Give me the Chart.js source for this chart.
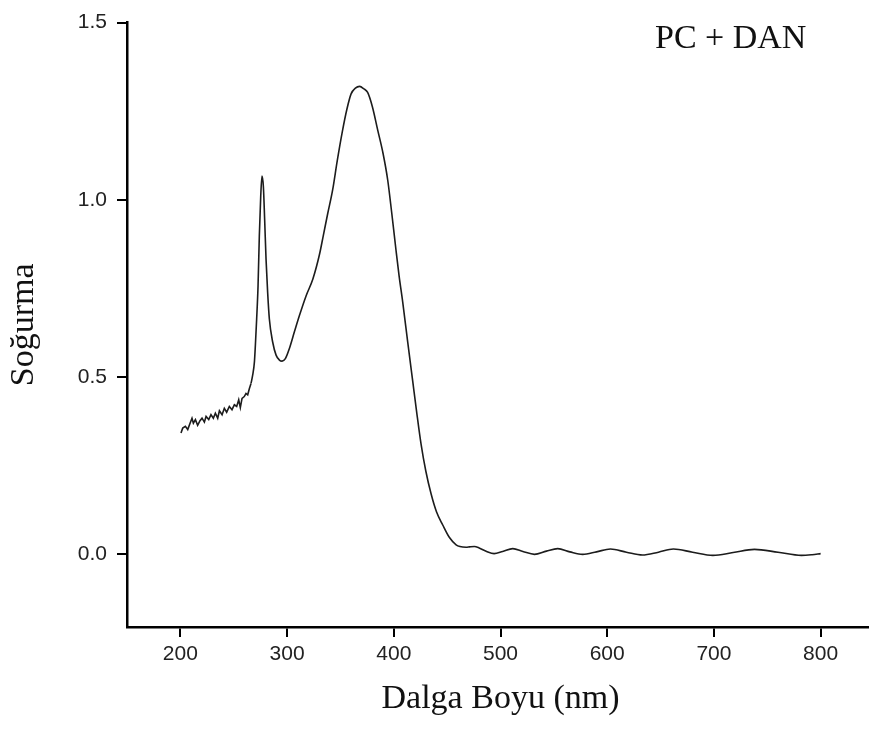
<!DOCTYPE html>
<html>
<head>
<meta charset="utf-8">
<script src="https://cdn.jsdelivr.net/npm/chart.js@4/dist/chart.umd.min.js"></script>
<style>
  html, body { margin: 0; padding: 0; background: #fff; overflow: hidden; }
  #wrap { position: relative; width: 880px; height: 731px; }
  #label { position: absolute; left: 655px; top: 18px; font-family: "Liberation Serif", "Times New Roman", serif; font-size: 34px; color: #111; white-space: nowrap; }
</style>
</head>
<body>
<div id="wrap">
  <canvas id="c"></canvas>
  <div id="label">PC + DAN</div>
</div>
<script>
// Noisy low-wavelength segment (nm, absorbance)
const noisyWavelength = [200.6,202.2,204.7,206.9,209.1,210.9,212.2,214.1,216.2,218.4,220.3,222.5,224.1,226.6,228.7,230.9,232.8,235.0,236.6,239.1,241.2,243.4,245.9,248.4,250.6,252.8,254.7,256.2,257.8,259.9,261.5,263.1,264.7,266.2];
const noisyAbsorbance = [0.342,0.356,0.361,0.352,0.370,0.384,0.370,0.380,0.364,0.377,0.384,0.373,0.389,0.380,0.394,0.384,0.398,0.384,0.405,0.394,0.412,0.401,0.417,0.408,0.422,0.417,0.436,0.414,0.440,0.445,0.454,0.450,0.468,0.482];

// Smooth segment (nm, absorbance)
const smoothWavelength = [266.2,267.8,269.4,270.3,271.5,272.8,274.0,275.3,276.5,277.8,279.0,280.3,281.8,283.4,286.5,289.7,292.8,295.3,298.4,302.1,306.8,311.5,317.8,324.1,330.3,334,338,342.7,347,352,356,360,364,368,372,375.5,380,385,390,394.3,398,402,405,408.4,413,417.8,421.5,425.6,430,435,440,446,452,458.4,462,467.8,471,475.5,480,487,494,502,511.5,521,531.8,543,553.6,565,577,590,603,618,633,648,662,680,699,718,738,760,782,792,800];
const smoothAbsorbance = [0.482,0.506,0.543,0.590,0.664,0.757,0.898,1.009,1.067,1.037,0.944,0.832,0.739,0.664,0.599,0.562,0.548,0.545,0.552,0.580,0.627,0.673,0.729,0.776,0.845,0.900,0.960,1.028,1.110,1.196,1.255,1.299,1.315,1.320,1.313,1.303,1.262,1.196,1.130,1.056,0.965,0.860,0.785,0.711,0.600,0.487,0.400,0.310,0.235,0.170,0.120,0.082,0.048,0.027,0.022,0.020,0.021,0.022,0.018,0.008,0.002,0.008,0.016,0.008,0.000,0.009,0.016,0.007,0.000,0.007,0.015,0.006,-0.002,0.006,0.015,0.006,-0.003,0.005,0.014,0.006,-0.003,-0.001,0.002];

const xTickValues = [200,300,400,500,600,700,800];
const yTickValues = [0.0,0.5,1.0,1.5];

const toPoints = (xs, ys) => xs.map((x, i) => ({ x: x, y: ys[i] }));

const lineColor = '#1c1c1c';
const tickFont = { family: '"Liberation Sans", Arial, sans-serif', size: 21 };
const titleFont = { family: '"Liberation Serif", "Times New Roman", serif', size: 34 };

new Chart(document.getElementById('c'), {
  type: 'line',
  data: {
    datasets: [
      { data: toPoints(noisyWavelength, noisyAbsorbance), borderColor: lineColor, borderWidth: 1.6, pointRadius: 0, tension: 0, fill: false },
      { data: toPoints(smoothWavelength, smoothAbsorbance), borderColor: lineColor, borderWidth: 1.6, pointRadius: 0, cubicInterpolationMode: 'monotone', fill: false }
    ]
  },
  options: {
    responsive: true,
    maintainAspectRatio: false,
    animation: false,
    layout: { padding: { left: 0, right: 6, top: 19, bottom: 0 } },
    plugins: { legend: { display: false }, tooltip: { enabled: false } },
    scales: {
      x: {
        type: 'linear', min: 150, max: 850,
        afterBuildTicks: s => { s.ticks = xTickValues.map(v => ({ value: v })); },
        afterFit: s => { s.height = 104; },
        grid: { display: true, drawOnChartArea: false, drawTicks: true, tickLength: 10, color: '#000', lineWidth: 2 },
        border: { display: true, color: '#000', width: 2.5 },
        ticks: { color: '#222', font: tickFont, padding: 5, maxRotation: 0, callback: v => String(v) },
        title: { display: true, text: 'Dalga Boyu (nm)', color: '#111', font: titleFont, padding: { top: 0, bottom: 12 } }
      },
      y: {
        type: 'linear', min: -0.205, max: 1.5,
        afterBuildTicks: s => { s.ticks = yTickValues.map(v => ({ value: v })); },
        afterFit: s => { s.width = 127; },
        grid: { display: true, drawOnChartArea: false, drawTicks: true, tickLength: 10, color: '#000', lineWidth: 2 },
        border: { display: true, color: '#000', width: 2.5 },
        ticks: { color: '#222', font: tickFont, padding: 10, callback: v => Number(v).toFixed(1) },
        title: { display: true, text: 'Soğurma', color: '#111', font: titleFont, padding: { top: 4, bottom: 0 } }
      }
    }
  }
});
</script>
</body>
</html>
